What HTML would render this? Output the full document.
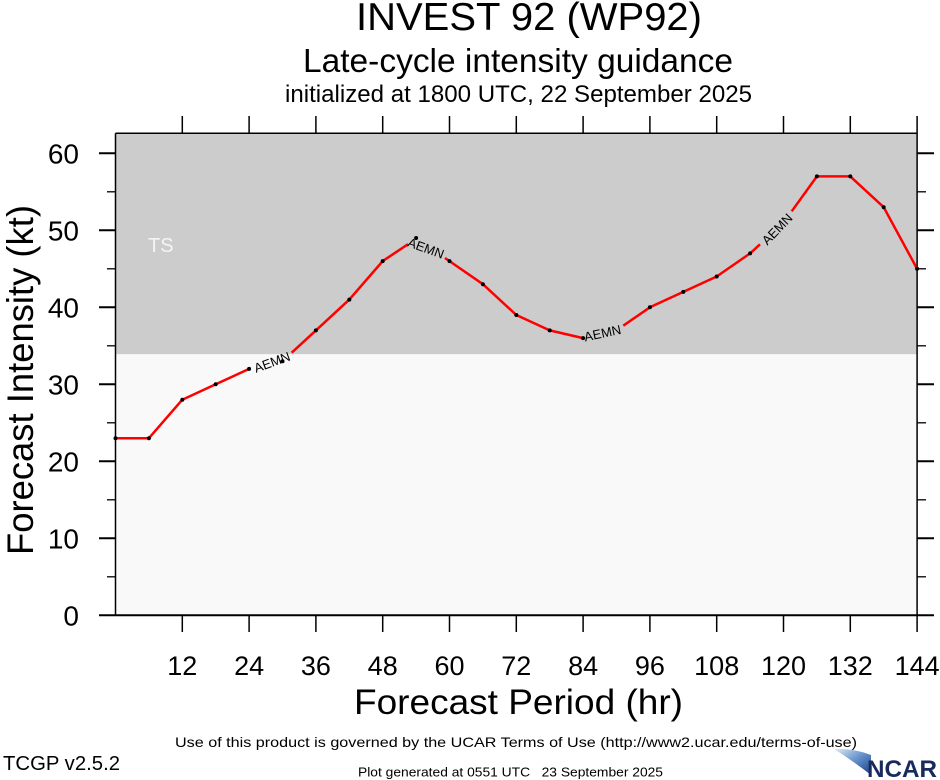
<!DOCTYPE html>
<html>
<head>
<meta charset="utf-8">
<style>
html,body{margin:0;padding:0;background:#fff;}
svg{display:block;}
text{font-family:"Liberation Sans",Arial,sans-serif;fill:#000;}
</style>
</head>
<body>
<svg width="940" height="780" viewBox="0 0 940 780" xmlns="http://www.w3.org/2000/svg">
<defs>
<linearGradient id="sw" x1="0" y1="0" x2="1" y2="1">
<stop offset="0" stop-color="#e4edf6"/>
<stop offset="0.45" stop-color="#6f9bd0"/>
<stop offset="1" stop-color="#173f8c"/>
</linearGradient>
</defs>
<rect width="940" height="780" fill="#fff"/>

<!-- titles -->
<text x="356" y="30" font-size="39" textLength="346" lengthAdjust="spacingAndGlyphs">INVEST 92 (WP92)</text>
<text x="303" y="72" font-size="33" textLength="430" lengthAdjust="spacingAndGlyphs">Late-cycle intensity guidance</text>
<text x="285" y="102" font-size="24" textLength="467" lengthAdjust="spacingAndGlyphs">initialized at 1800 UTC, 22 September 2025</text>

<!-- plot regions -->
<rect x="115.5" y="133.3" width="801.6" height="221" fill="#cccccc"/>
<rect x="115.5" y="354.3" width="801.6" height="261" fill="#f9f9f9"/>

<text x="148" y="252" font-size="20" fill="#f4f4f4" style="fill:#f4f4f4">TS</text>

<!-- frame -->
<g stroke="#000" fill="none">
<line x1="115.5" y1="133.3" x2="917.1" y2="133.3" stroke-width="1.5"/>
<line x1="115.5" y1="133.3" x2="115.5" y2="615.3" stroke-width="1.5"/>
<line x1="917.1" y1="116" x2="917.1" y2="632" stroke-width="1.5"/>
<line x1="99" y1="615.3" x2="934" y2="615.3" stroke-width="2"/>
<g stroke-width="2">
<line x1="99" y1="538.3" x2="115.5" y2="538.3"/>
<line x1="99" y1="461.3" x2="115.5" y2="461.3"/>
<line x1="99" y1="384.3" x2="115.5" y2="384.3"/>
<line x1="99" y1="307.3" x2="115.5" y2="307.3"/>
<line x1="99" y1="230.3" x2="115.5" y2="230.3"/>
<line x1="99" y1="153.3" x2="115.5" y2="153.3"/>
<line x1="917.1" y1="538.3" x2="934" y2="538.3"/>
<line x1="917.1" y1="461.3" x2="934" y2="461.3"/>
<line x1="917.1" y1="384.3" x2="934" y2="384.3"/>
<line x1="917.1" y1="307.3" x2="934" y2="307.3"/>
<line x1="917.1" y1="230.3" x2="934" y2="230.3"/>
<line x1="917.1" y1="153.3" x2="934" y2="153.3"/>
</g>
<g stroke-width="1.3">
<line x1="107" y1="576.8" x2="115.5" y2="576.8"/>
<line x1="107" y1="499.8" x2="115.5" y2="499.8"/>
<line x1="107" y1="422.8" x2="115.5" y2="422.8"/>
<line x1="107" y1="345.8" x2="115.5" y2="345.8"/>
<line x1="107" y1="268.8" x2="115.5" y2="268.8"/>
<line x1="107" y1="191.8" x2="115.5" y2="191.8"/>
<line x1="917.1" y1="576.8" x2="926" y2="576.8"/>
<line x1="917.1" y1="499.8" x2="926" y2="499.8"/>
<line x1="917.1" y1="422.8" x2="926" y2="422.8"/>
<line x1="917.1" y1="345.8" x2="926" y2="345.8"/>
<line x1="917.1" y1="268.8" x2="926" y2="268.8"/>
<line x1="917.1" y1="191.8" x2="926" y2="191.8"/>
</g>
<g stroke-width="1.5">
<line x1="182.3" y1="615.3" x2="182.3" y2="632"/><line x1="182.3" y1="116" x2="182.3" y2="133.3"/>
<line x1="249.1" y1="615.3" x2="249.1" y2="632"/><line x1="249.1" y1="116" x2="249.1" y2="133.3"/>
<line x1="315.9" y1="615.3" x2="315.9" y2="632"/><line x1="315.9" y1="116" x2="315.9" y2="133.3"/>
<line x1="382.7" y1="615.3" x2="382.7" y2="632"/><line x1="382.7" y1="116" x2="382.7" y2="133.3"/>
<line x1="449.5" y1="615.3" x2="449.5" y2="632"/><line x1="449.5" y1="116" x2="449.5" y2="133.3"/>
<line x1="516.3" y1="615.3" x2="516.3" y2="632"/><line x1="516.3" y1="116" x2="516.3" y2="133.3"/>
<line x1="583.1" y1="615.3" x2="583.1" y2="632"/><line x1="583.1" y1="116" x2="583.1" y2="133.3"/>
<line x1="649.9" y1="615.3" x2="649.9" y2="632"/><line x1="649.9" y1="116" x2="649.9" y2="133.3"/>
<line x1="716.7" y1="615.3" x2="716.7" y2="632"/><line x1="716.7" y1="116" x2="716.7" y2="133.3"/>
<line x1="783.5" y1="615.3" x2="783.5" y2="632"/><line x1="783.5" y1="116" x2="783.5" y2="133.3"/>
<line x1="850.3" y1="615.3" x2="850.3" y2="632"/><line x1="850.3" y1="116" x2="850.3" y2="133.3"/>
</g>
</g>

<!-- y tick labels -->
<g font-size="28" text-anchor="end">
<text x="79" y="625.3">0</text>
<text x="79" y="548.3">10</text>
<text x="79" y="471.3">20</text>
<text x="79" y="394.3">30</text>
<text x="79" y="317.3">40</text>
<text x="79" y="240.3">50</text>
<text x="79" y="163.3">60</text>
</g>

<!-- x tick labels -->
<g font-size="27" text-anchor="middle">
<text x="182.3" y="675">12</text>
<text x="249.1" y="675">24</text>
<text x="315.9" y="675">36</text>
<text x="382.7" y="675">48</text>
<text x="449.5" y="675">60</text>
<text x="516.3" y="675">72</text>
<text x="583.1" y="675">84</text>
<text x="649.9" y="675">96</text>
<text x="716.7" y="675">108</text>
<text x="783.5" y="675">120</text>
<text x="850.3" y="675">132</text>
<text x="917.1" y="675">144</text>
</g>

<!-- axis titles -->
<text x="354" y="714" font-size="35" textLength="329" lengthAdjust="spacingAndGlyphs">Forecast Period (hr)</text>
<text transform="translate(33,380) rotate(-90)" text-anchor="middle" font-size="37" textLength="350" lengthAdjust="spacingAndGlyphs">Forecast Intensity (kt)</text>

<!-- series -->
<g stroke="#ff0000" stroke-width="2.5" fill="none" stroke-linejoin="round">
<polyline points="115.5,438.2 148.9,438.2 182.3,399.7 215.7,384.3 249.1,368.9"/>
<polyline points="291.7,352.7 315.9,330.4 349.3,299.6 382.7,261.1 408,244.2"/>
<polyline points="445,258 449.5,261.1 482.9,284.2 516.3,315 549.7,330.4 583.1,338.1"/>
<polyline points="623.3,325.7 649.9,307.3 683.3,291.9 716.7,276.5 750.1,253.4 760,244.3"/>
<polyline points="791.7,211.3 816.9,176.4 850.3,176.4 883.7,207.2 917.1,268.8"/>
</g>
<g fill="#000">
<circle cx="115.5" cy="438.2" r="2"/>
<circle cx="148.9" cy="438.2" r="2"/>
<circle cx="182.3" cy="399.7" r="2"/>
<circle cx="215.7" cy="384.3" r="2"/>
<circle cx="249.1" cy="368.9" r="2"/>
<circle cx="282.5" cy="361.2" r="2"/>
<circle cx="315.9" cy="330.4" r="2"/>
<circle cx="349.3" cy="299.6" r="2"/>
<circle cx="382.7" cy="261.1" r="2"/>
<circle cx="416.1" cy="238" r="2"/>
<circle cx="449.5" cy="261.1" r="2"/>
<circle cx="482.9" cy="284.2" r="2"/>
<circle cx="516.3" cy="315" r="2"/>
<circle cx="549.7" cy="330.4" r="2"/>
<circle cx="583.1" cy="338.1" r="2"/>
<circle cx="649.9" cy="307.3" r="2"/>
<circle cx="683.3" cy="291.9" r="2"/>
<circle cx="716.7" cy="276.5" r="2"/>
<circle cx="750.1" cy="253.4" r="2"/>
<circle cx="816.9" cy="176.4" r="2"/>
<circle cx="850.3" cy="176.4" r="2"/>
<circle cx="883.7" cy="207.2" r="2"/>
<circle cx="917.1" cy="268.8" r="2"/>
</g>
<g font-size="13" text-anchor="middle">
<text transform="translate(272,362) rotate(-20)" dy="0.36em">AEMN</text>
<text transform="translate(426,248) rotate(20)" dy="0.36em">AEMN</text>
<text transform="translate(602.5,333) rotate(-12)" dy="0.36em">AEMN</text>
<text transform="translate(777,229) rotate(-46)" dy="0.36em">AEMN</text>
</g>

<!-- footer -->
<text x="175" y="747" font-size="14" textLength="682" lengthAdjust="spacingAndGlyphs">Use of this product is governed by the UCAR Terms of Use (http://www2.ucar.edu/terms-of-use)</text>
<text x="3" y="770" font-size="20" textLength="117" lengthAdjust="spacingAndGlyphs">TCGP v2.5.2</text>
<text x="358" y="776.5" font-size="12.5" textLength="305" lengthAdjust="spacingAndGlyphs" xml:space="preserve">Plot generated at 0551 UTC   23 September 2025</text>

<!-- NCAR logo -->
<path d="M834,749 Q853,748 871,755 L871,775 Q853,761 834,749 Z" fill="url(#sw)"/>
<text x="867" y="777" font-size="24" font-weight="bold" textLength="70" lengthAdjust="spacingAndGlyphs" style="fill:#1b2a5c">NCAR</text>
</svg>
</body>
</html>
